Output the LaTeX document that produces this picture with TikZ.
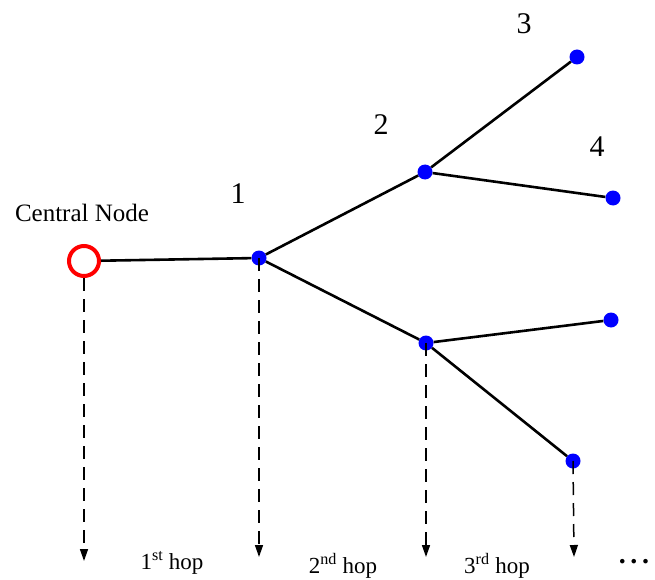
\documentclass[tikz,border=0pt]{standalone}
\usepackage{fontspec}
\setmainfont{Liberation Serif}
\usetikzlibrary{arrows.meta,positioning}

\begin{document}
\begin{tikzpicture}[x=1pt, y=-1pt,
    dot/.style={circle, fill=blue, inner sep=0pt, minimum size=15pt},
    central/.style={circle, draw=red, line width=4pt, minimum size=30pt, inner sep=0pt},
    link/.style={line width=2.6pt, black},
    hopline/.style={-{Triangle[length=12pt, width=8pt]}, line width=1.5pt, dash pattern=on 13pt off 8pt},
    num/.style={font=\rmfamily\fontsize{30}{30}\selectfont},
    hop/.style={font=\rmfamily\fontsize{23}{23}\selectfont},
]
\useasboundingbox (0,0) rectangle (655,580);

% Tree of nodes
\node[central] (c) at (84,261) {};
\node[dot] (n1) at (259,258) {};
\node[dot] (n2a) at (425,172) {};
\node[dot] (n2b) at (426,343) {};
\node[dot] (n3a) at (577,57) {};
\node[dot] (n3b) at (613,198) {};
\node[dot] (n3c) at (611,320) {};
\node[dot] (n3d) at (573,461) {};

% Labels
\node[font=\rmfamily\fontsize{25}{25}\selectfont] (lc) at (82,213) {Central Node};
\node[num] (l1) at (238,194) {1};
\node[num] (l2) at (381,125) {2};
\node[num] (l3) at (524,24) {3};
\node[num] (l4) at (597,147) {4};

% Links
\draw[link] (c) -- (n1);
\draw[link] (n1) -- (n2a);
\draw[link] (n1) -- (n2b);
\draw[link] (n2a) -- (n3a);
\draw[link] (n2a) -- (n3b);
\draw[link] (n2b) -- (n3c);
\draw[link] (n2b) -- (n3d);

% Hop markers
\coordinate (a0) at (84,561);
\coordinate (a1) at (259,557);
\coordinate (a2) at (426,557);
\coordinate (a3) at (574,557);
\draw[hopline] (c.south) -- (a0);
\draw[hopline] (n1.center) -- (a1);
\draw[hopline] (n2b.center) -- (a2);
\draw[hopline] (n3d.center) -- (a3);
\node[hop] (h1) at (172,563) {1\textsuperscript{st} hop};
\node[hop] (h2) at (343,566) {2\textsuperscript{nd} hop};
\node[hop] (h3) at (497,566) {3\textsuperscript{rd} hop};
\node[font=\rmfamily\fontsize{28}{28}\selectfont\bfseries] (h4) at (634,562) {.\,.\,.};
\end{tikzpicture}
\end{document}
